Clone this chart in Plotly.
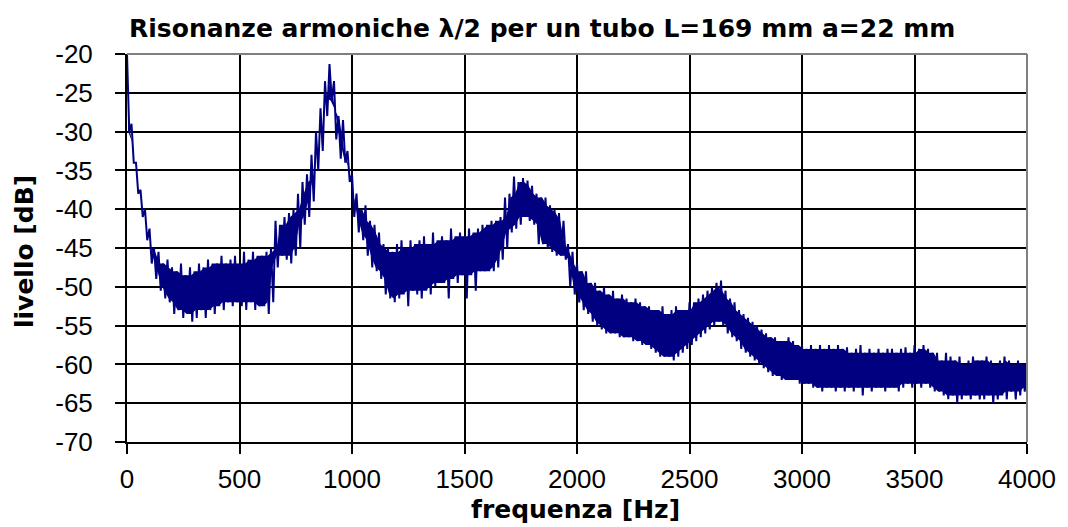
import plotly.graph_objects as go

# Frequency bins (Hz), one every 20 Hz from 0 to 4000
freq_bins = list(range(0, 4001, 20))

# Upper excursion of the noisy spectrum in each bin (dB)
level_hi = [
    -20, -29, -34, -37.5, -40, -42.5, -45, -45.5, -47, -46.5,
    -47.5, -48, -47, -48.5, -47.5, -48, -47, -47.5, -46.5, -47,
    -47, -46, -47, -46.5, -46, -47, -45.5, -46.5, -45.5, -46,
    -46, -45.5, -45, -41.5, -42, -41, -40.5, -40, -38, -36.5,
    -35.5, -33, -30, -27, -23.5, -21.3, -23.5, -28, -28.5, -32.5,
    -35.5, -38, -40, -39.5, -41.5, -42, -43, -44.5, -45, -45.5,
    -44.5, -44, -45, -44, -44.5, -44, -43.5, -44.5, -43, -44,
    -43.5, -44, -42.5, -43.5, -43, -43.5, -42.5, -43, -42.5, -42,
    -42, -41.5, -41.5, -41, -38.5, -38, -35.8, -36.5, -36, -36.3,
    -37, -38, -38.5, -38.5, -39.5, -40, -40.5, -41.5, -44.5, -45.5,
    -47, -48, -48, -49.5, -49.5, -50.5, -50, -51, -50.5, -51.5,
    -51, -51.5, -52, -51.5, -52, -52.5, -52.5, -53, -53, -52.5,
    -53.5, -53, -52.5, -53, -53, -52, -52, -51.5, -51, -50.5,
    -50, -49.5, -49.2, -50.5, -51.5, -52, -53, -53.5, -54, -54.5,
    -55, -55.5, -56, -56.5, -56.5, -57, -57, -56.5, -57, -57.5,
    -57.5, -58, -57.5, -58, -57.5, -58, -57.5, -58, -57.5, -58,
    -57.8, -58.5, -58, -57.5, -58.5, -58, -58.5, -58, -58.5, -58,
    -58, -58.5, -58, -57.8, -58.5, -57.5, -58, -57.5, -58, -58.5,
    -58.5, -59.5, -58.5, -59, -59.5, -59, -60, -59.5, -59, -59.5,
    -59.5, -59, -59.5, -60, -59.5, -59, -59.5, -60, -59.5, -60,
    -60,
]

# Lower excursion of the noisy spectrum in each bin (dB)
level_lo = [
    -30, -34, -38, -41, -44, -47, -49, -50.5, -51.5, -52,
    -53.5, -53, -54, -53.5, -54.5, -54, -53, -54, -53, -53.5,
    -52.5, -53, -52, -52.5, -52, -52.5, -53, -52, -53, -52.5,
    -52.5, -53.5, -52, -47.5, -46, -46.5, -47, -46, -45, -42,
    -41, -39, -35, -32.5, -28, -26, -31, -33.5, -34, -36.5,
    -41, -43, -44, -46, -47.5, -48, -49, -51, -51.5, -52,
    -51.5, -51, -52.5, -50.5, -51, -51.5, -50.5, -51, -50, -49.5,
    -49.5, -51.5, -49, -49.5, -48.5, -51.5, -48.5, -50.5, -48, -48,
    -48, -48, -47.5, -46.5, -45, -43, -42.5, -42, -41, -41.5,
    -42, -44.5, -44.5, -45, -45.5, -46, -46, -46.5, -50, -51,
    -52, -53, -53.5, -54.5, -55, -55.5, -56, -56, -56, -56.5,
    -56.5, -56.5, -57, -57, -57.5, -57.5, -58, -58.5, -59, -59,
    -59, -59.5, -59, -58.5, -58, -57.5, -57, -56.5, -56, -55.5,
    -55, -54.5, -55, -56, -56.5, -57, -58, -58.5, -59, -59.5,
    -60, -60.5, -61, -61.5, -61.5, -62, -62, -62, -62, -62.5,
    -62.5, -62.5, -63, -63, -63.5, -63, -63, -63.5, -63, -63.5,
    -63, -63.5, -63, -64, -63, -63.5, -63, -63, -63.5, -63,
    -63, -63.5, -63, -62.5, -63, -62.5, -63, -62.5, -63, -63.5,
    -63.5, -64, -64.5, -64, -65, -64.5, -64, -64.5, -64, -64.5,
    -64.5, -64, -65, -64.5, -64, -64.5, -63.5, -64.5, -64, -63.5,
    -63,
]

x_tick_vals = [0, 500, 1000, 1500, 2000, 2500, 3000, 3500, 4000]
x_tick_text = ["0", "500", "1000", "1500", "2000", "2500", "3000", "3500", "4000"]
y_tick_vals = [-20, -25, -30, -35, -40, -45, -50, -55, -60, -65, -70]
y_tick_text = ["-20", "-25", "-30", "-35", "-40", "-45", "-50", "-55", "-60", "-65", "-70"]

title_text = "Risonanze armoniche λ/2 per un tubo L=169 mm a=22 mm"
x_title = "frequenza [Hz]"
y_title = "livello [dB]"

NAVY = "#000080"

# interleave the upper and lower excursions to draw the dense noisy trace
xs, ys = [], []
for f, hi, lo in zip(freq_bins, level_hi, level_lo):
    xs.append(f)
    ys.append(hi)
    xs.append(f + 10)
    ys.append(lo)

# dense core of the band: the part common to neighbouring bins
n = len(freq_bins)
core_x, core_hi, core_lo = [], [], []
for i in range(n):
    a, b = max(0, i - 1), min(n, i + 2)
    top = min(level_hi[a:b])
    bot = max(level_lo[a:b])
    if bot > top:
        mid = (level_hi[i] + level_lo[i]) / 2
        top = bot = mid
    core_x.append(freq_bins[i] + 5)
    core_hi.append(top)
    core_lo.append(bot)

fig = go.Figure()
fig.add_trace(go.Scatter(x=core_x, y=core_lo, mode="lines",
                         line=dict(color=NAVY, width=0), hoverinfo="skip"))
fig.add_trace(go.Scatter(x=core_x, y=core_hi, mode="lines", fill="tonexty",
                         fillcolor=NAVY, line=dict(color=NAVY, width=0),
                         hoverinfo="skip"))
fig.add_trace(go.Scatter(x=xs, y=ys, mode="lines",
                         line=dict(color=NAVY, width=2),
                         hoverinfo="skip"))

tick_font = dict(family="Liberation Sans, Arial, sans-serif", size=26, color="black")
bold_font = dict(family="DejaVu Sans, Verdana, sans-serif", size=25, color="black")

# the page body adds an 8 px offset, so the figure is 8 px smaller with shifted margins
fig.update_layout(
    width=1060, height=519,
    margin=dict(l=119, r=33, t=46, b=85),
    paper_bgcolor="white", plot_bgcolor="white",
    showlegend=False,
    xaxis=dict(range=[0, 4000], tickvals=x_tick_vals, ticktext=x_tick_text,
               showgrid=True, gridcolor="black", gridwidth=2,
               showline=True, linecolor="black", linewidth=2,
               ticks="outside", ticklen=10, tickwidth=2, tickcolor="black",
               tickfont=tick_font, zeroline=False, ticklabelstandoff=3),
    yaxis=dict(range=[-70, -20], tickvals=y_tick_vals, ticktext=y_tick_text,
               showgrid=True, gridcolor="black", gridwidth=2,
               showline=True, linecolor="black", linewidth=2,
               ticks="outside", ticklen=10, tickwidth=2, tickcolor="black",
               tickfont=tick_font, zeroline=False, ticklabelstandoff=17),
    annotations=[
        dict(text="<b>" + title_text + "</b>", xref="paper", yref="paper",
             x=0.4615, y=1.067, xanchor="center", yanchor="middle",
             showarrow=False, font=bold_font),
        dict(text="<b>" + x_title + "</b>", xref="paper", yref="paper",
             x=0.498, y=-0.173, xanchor="center", yanchor="middle",
             showarrow=False, font=bold_font),
        dict(text="<b>" + y_title + "</b>", xref="paper", yref="paper",
             x=-0.1145, y=0.492, xanchor="center", yanchor="middle",
             textangle=-90, showarrow=False, font=bold_font),
    ],
    shapes=[
        dict(type="line", xref="paper", yref="paper", x0=0, x1=1, y0=1, y1=1,
             line=dict(color="#808080", width=2), layer="above"),
        dict(type="line", xref="paper", yref="paper", x0=1, x1=1, y0=0, y1=1,
             line=dict(color="#808080", width=2), layer="above"),
    ],
)

fig.write_html("out.html")
